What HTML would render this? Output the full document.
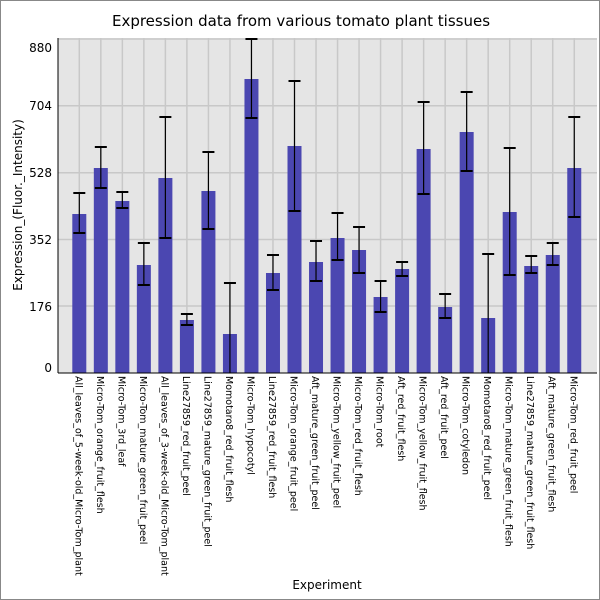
<!DOCTYPE html>
<html><head><meta charset="utf-8"><style>body{margin:0;background:#fff}svg{display:block}</style></head><body>
<svg width="600" height="600" xmlns="http://www.w3.org/2000/svg" font-family="DejaVu Sans, sans-serif">
<rect x="0.5" y="0.5" width="599" height="599" fill="#fff" stroke="#888"/>
<text x="301" y="26" text-anchor="middle" font-size="15">Expression data from various tomato plant tissues</text>
<rect x="58" y="38" width="539" height="335" fill="#e5e5e5"/>
<g stroke="#c8c8c8" stroke-width="1.5" id="grid"></g>
<g id="bars"></g>
<line x1="58" y1="38" x2="58" y2="373" stroke="#000"/>
<line x1="58" y1="373" x2="597" y2="373" stroke="#000"/>
<g font-size="12" text-anchor="end">
<text x="52" y="52">880</text><text x="52" y="110">704</text><text x="52" y="177">528</text>
<text x="52" y="244">352</text><text x="52" y="311">176</text><text x="52" y="372">0</text>
</g>
<text transform="translate(22,205) rotate(-90)" text-anchor="middle" font-size="12">Expression_(Fluor._Intensity)</text>
<text x="327" y="589" text-anchor="middle" font-size="12">Experiment</text>
<g id="labels" font-size="9.5"></g>
<script>
var d=[[214,193,233,"All_leaves_of_5-week-old_Micro-Tom_plant"],[168,147,188,"Micro-Tom_orange_fruit_flesh"],[201,192,208,"Micro-Tom_3rd_leaf"],[265,243,285,"Micro-Tom_mature_green_fruit_peel"],[178,117,238,"All_leaves_of_3-week-old_Micro-Tom_plant"],[320,314,325,"Line27859_red_fruit_peel"],[191,152,229,"Line27859_mature_green_fruit_peel"],[334,283,null,"Momotaro8_red_fruit_flesh"],[79,39,118,"Micro-Tom_hypocotyl"],[273,255,290,"Line27859_red_fruit_flesh"],[146,81,211,"Micro-Tom_orange_fruit_peel"],[262,241,281,"Aft_mature_green_fruit_peel"],[238,213,260,"Micro-Tom_yellow_fruit_peel"],[250,227,273,"Micro-Tom_red_fruit_flesh"],[297,281,312,"Micro-Tom_root"],[269,262,276,"Aft_red_fruit_flesh"],[149,102,194,"Micro-Tom_yellow_fruit_flesh"],[307,294,318,"Aft_red_fruit_peel"],[132,92,171,"Micro-Tom_cotyledon"],[318,254,null,"Momotaro8_red_fruit_peel"],[212,148,275,"Micro-Tom_mature_green_fruit_flesh"],[266,256,273,"Line27859_mature_green_fruit_flesh"],[255,243,265,"Aft_mature_green_fruit_flesh"],[168,117,217,"Micro-Tom_red_fruit_peel"]];
var NS="http://www.w3.org/2000/svg",g=document.getElementById("grid"),b=document.getElementById("bars"),L=document.getElementById("labels");
function el(p,t,a,tx){var e=document.createElementNS(NS,t);for(var k in a)e.setAttribute(k,a[k]);if(tx)e.textContent=tx;p.appendChild(e);return e;}
[39,105.7,172.7,239.5,306].forEach(function(y){el(g,"line",{x1:58,x2:597,y1:y,y2:y});});
d.forEach(function(r,i){var cx=79.3+i*21.52;
el(g,"line",{x1:cx,x2:cx,y1:38,y2:373});
el(b,"rect",{x:cx-7,y:r[0],width:14,height:373-r[0],fill:"#4b47b1"});
var bot=r[2]===null?373:r[2];
el(b,"line",{x1:cx,x2:cx,y1:r[1],y2:bot,stroke:"#000","stroke-width":1.2});
el(b,"line",{x1:cx-6,x2:cx+6,y1:r[1],y2:r[1],stroke:"#000","stroke-width":2});
if(r[2]!==null)el(b,"line",{x1:cx-6,x2:cx+6,y1:r[2],y2:r[2],stroke:"#000","stroke-width":2});
el(L,"text",{transform:"translate("+(cx-4)+",376) rotate(90)"},r[3]);
});
</script>
</svg>
</body></html>
